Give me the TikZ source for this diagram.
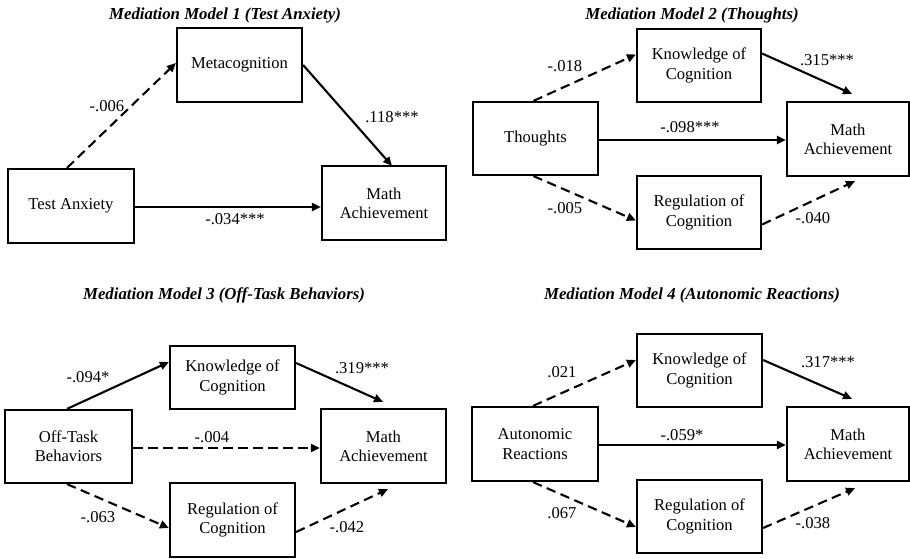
\documentclass[tikz,border=0pt]{standalone}
\usepackage{fontspec}
\setmainfont{Liberation Serif}
\usetikzlibrary{arrows.meta}
\begin{document}
\begin{tikzpicture}[x=1pt,y=-1pt,
  box/.style={draw, line width=2.2pt, inner sep=0pt, align=center, font=\fontsize{16.6}{19.3}\selectfont},
  lbl/.style={inner sep=0pt, font=\fontsize{16.6}{19}\selectfont},
  ttl/.style={inner sep=0pt, font=\fontsize{16.8}{19}\selectfont\bfseries\itshape},
  arr/.style={line width=2.1pt, -{Triangle[length=9pt,width=8pt]}},
  dsh/.style={arr, dash pattern=on 9.5pt off 5.5pt}]
\useasboundingbox (0,0) rectangle (910,559);

% ---------- Model 1 ----------
\node[ttl] (t1) at (225,15) {Mediation Model 1 (Test Anxiety)};
\node[box, minimum width=125pt, minimum height=74pt] (meta) at (239.5,65) {Metacognition};
\node[box, minimum width=126pt, minimum height=74pt] (ta) at (71,206) {Test Anxiety};
\node[box, minimum width=124pt, minimum height=74pt] (ma1) at (384,203) {Math\\Achievement};
\draw[dsh] ([xshift=-4pt]ta.north) -- ([yshift=2pt]meta.west);
\draw[arr] (meta.east) -- ([xshift=8pt,yshift=-1pt]ma1.north);
\draw[arr] ([yshift=-1pt]ta.east) -- ([yshift=-4pt]ma1.west);
\node[lbl] (l1a) at (107,106) {-.006};
\node[lbl] (l1b) at (392,117) {.118***};
\node[lbl] (l1c) at (235,219) {-.034***};

% ---------- Model 2 ----------
\node[ttl] (t2) at (692,15) {Mediation Model 2 (Thoughts)};
\node[box, minimum width=125pt, minimum height=73pt] (th) at (535.5,138.5) {Thoughts};
\node[box, minimum width=124pt, minimum height=73pt] (kn2) at (699,65.5) {Knowledge of\\Cognition};
\node[box, minimum width=122pt, minimum height=74pt] (ma2) at (848,139) {Math\\Achievement};
\node[box, minimum width=124pt, minimum height=73pt] (rg2) at (699,212.5) {Regulation of\\Cognition};
\draw[dsh] ([xshift=-2pt]th.north) -- ([yshift=11pt]kn2.west);
\draw[arr] ([yshift=12pt]kn2.east) -- ([xshift=4pt,yshift=7pt]ma2.north);
\draw[arr] ([yshift=-1.5pt]th.east) -- ([yshift=-1pt]ma2.west);
\draw[dsh] ([xshift=-2pt]th.south) -- ([yshift=-8pt]rg2.west);
\draw[dsh] ([yshift=-12pt]rg2.east) -- ([xshift=7pt,yshift=-4pt]ma2.south);
\node[lbl] (l2a) at (565,66) {-.018};
\node[lbl] (l2b) at (827,60) {.315***};
\node[lbl] (l2c) at (690,127) {-.098***};
\node[lbl] (l2d) at (565,208) {-.005};
\node[lbl] (l2e) at (813,218) {-.040};

% ---------- Model 3 ----------
\node[ttl] (t3) at (224,295) {Mediation Model 3 (Off-Task Behaviors)};
\node[box, minimum width=127pt, minimum height=73pt] (ot) at (68.5,446.5) {Off-Task\\Behaviors};
\node[box, minimum width=125pt, minimum height=63pt] (kn3) at (232.5,377.5) {Knowledge of\\Cognition};
\node[box, minimum width=125pt, minimum height=74pt] (ma3) at (383.5,446) {Math\\Achievement};
\node[box, minimum width=125pt, minimum height=74pt] (rg3) at (232.5,520) {Regulation of\\Cognition};
\draw[arr] ([xshift=-1.5pt]ot.north) -- ([yshift=15.5pt]kn3.west);
\draw[arr] ([yshift=14.5pt]kn3.east) -- ([xshift=-0.5pt,yshift=6pt]ma3.north);
\draw[dsh] ([yshift=-1.5pt]ot.east) -- ([yshift=-2pt]ma3.west);
\draw[dsh] ([xshift=-1.5pt]ot.south) -- ([yshift=-8pt]rg3.west);
\draw[dsh] ([yshift=-12pt]rg3.east) -- ([xshift=4.5pt,yshift=-5pt]ma3.south);
\node[lbl] (l3a) at (88,377) {-.094*};
\node[lbl] (l3b) at (362,368) {.319***};
\node[lbl] (l3c) at (212,437) {-.004};
\node[lbl] (l3d) at (98,517) {-.063};
\node[lbl] (l3e) at (347,527) {-.042};

% ---------- Model 4 ----------
\node[ttl] (t4) at (692,295) {Mediation Model 4 (Autonomic Reactions)};
\node[box, minimum width=126pt, minimum height=74pt] (au) at (535,444) {Autonomic\\Reactions};
\node[box, minimum width=125pt, minimum height=73pt] (kn4) at (699.5,370.5) {Knowledge of\\Cognition};
\node[box, minimum width=122pt, minimum height=74pt] (ma4) at (848,444) {Math\\Achievement};
\node[box, minimum width=125pt, minimum height=73pt] (rg4) at (699.5,516.5) {Regulation of\\Cognition};
\draw[dsh] ([xshift=-2pt]au.north) -- ([yshift=10.5pt]kn4.west);
\draw[arr] ([yshift=10.5pt]kn4.east) -- ([xshift=4pt,yshift=7pt]ma4.north);
\draw[arr] ([yshift=-1pt]au.east) -- ([yshift=-1pt]ma4.west);
\draw[dsh] ([xshift=-2pt]au.south) -- ([yshift=-10.5pt]rg4.west);
\draw[dsh] ([yshift=-11.5pt]rg4.east) -- ([xshift=7pt,yshift=-6pt]ma4.south);
\node[lbl] (l4a) at (562,372) {.021};
\node[lbl] (l4b) at (828,362) {.317***};
\node[lbl] (l4c) at (682,435) {-.059*};
\node[lbl] (l4d) at (562,513) {.067};
\node[lbl] (l4e) at (813,523) {-.038};
\end{tikzpicture}
\end{document}
